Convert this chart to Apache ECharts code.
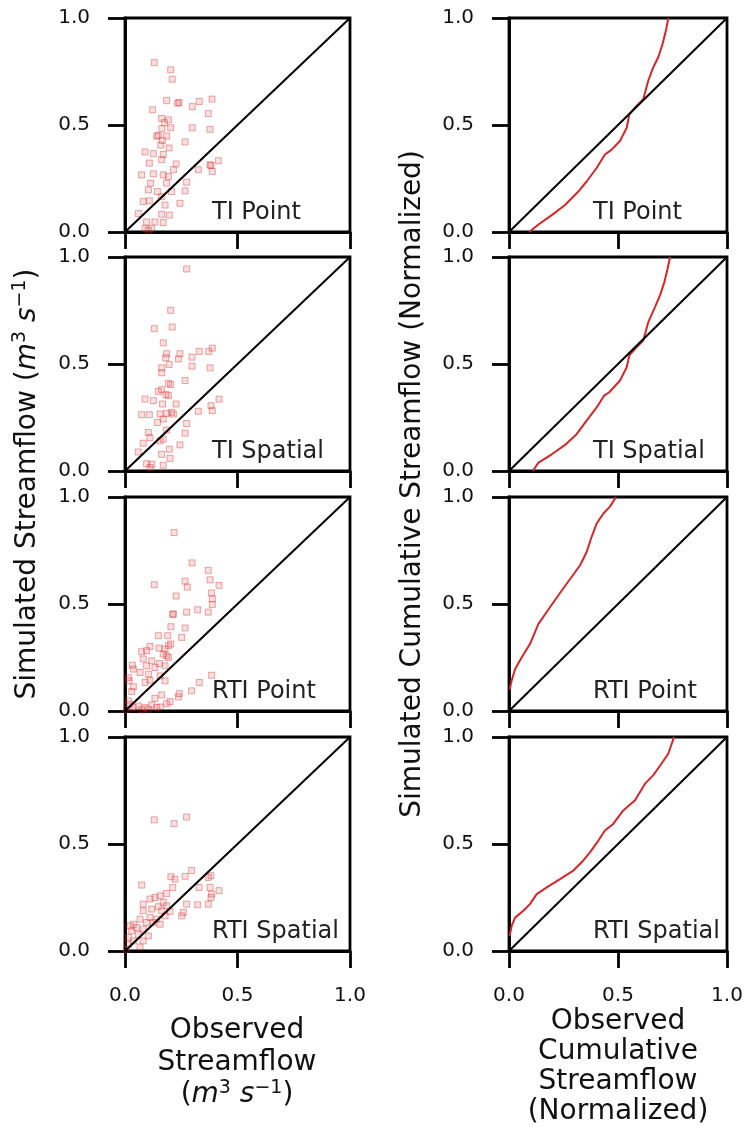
<!DOCTYPE html>
<html><head><meta charset="utf-8">
<script src="https://cdn.jsdelivr.net/npm/echarts@6/dist/echarts.min.js"></script>
<style>html,body{margin:0;padding:0;background:#fff}#c{width:748px;height:1127px}</style>
</head><body><div id="c"></div>
<script>
// ---- data ----
const tickValues = [0, 0.5, 1.0];
const tickLabels = ['0.0', '0.5', '1.0'];
const panelNames = ['TI Point', 'TI Spatial', 'RTI Point', 'RTI Spatial'];
const oneToOne = [[0, 0], [1, 1]];

const tiPointScatter = [[.130,.791],[.203,.758],[.210,.714],[.185,.615],[.240,.605],[.234,.602],[.330,.610],[.299,.586],[.387,.621],[.123,.571],[.370,.553],[.163,.531],[.193,.524],[.175,.511],[.203,.487],[.299,.487],[.378,.480],[.164,.483],[.141,.448],[.148,.451],[.185,.448],[.166,.428],[.267,.421],[.159,.406],[.196,.393],[.089,.374],[.126,.366],[.170,.362],[.163,.338],[.415,.333],[.382,.311],[.388,.283],[.378,.314],[.326,.291],[.227,.318],[.108,.322],[.215,.291],[.074,.267],[.126,.272],[.170,.267],[.193,.259],[.185,.228],[.274,.233],[.114,.228],[.104,.197],[.144,.189],[.207,.189],[.267,.192],[.081,.142],[.108,.146],[.163,.165],[.178,.126],[.244,.134],[.059,.086],[.163,.083],[.197,.079],[.096,.047],[.133,.047],[.170,.044],[.089,.016],[.104,.008],[.119,.016]];

const tiSpatialScatter = [[.274,.944],[.203,.751],[.130,.665],[.210,.673],[.170,.599],[.185,.548],[.244,.548],[.181,.529],[.237,.524],[.330,.559],[.372,.559],[.388,.574],[.298,.532],[.298,.490],[.196,.498],[.163,.482],[.378,.482],[.163,.459],[.193,.410],[.203,.404],[.267,.423],[.163,.380],[.148,.372],[.182,.357],[.193,.352],[.089,.336],[.126,.329],[.167,.313],[.227,.313],[.418,.336],[.382,.305],[.388,.282],[.326,.279],[.074,.263],[.108,.263],[.156,.266],[.185,.269],[.207,.274],[.215,.266],[.170,.243],[.274,.222],[.144,.227],[.104,.180],[.185,.191],[.267,.177],[.111,.156],[.156,.141],[.170,.149],[.081,.130],[.244,.122],[.059,.089],[.163,.078],[.197,.102],[.200,.059],[.096,.034],[.119,.031],[.170,.027],[.111,.016]];

const rtiPointScatter = [[.218,.834],[.298,.692],[.370,.657],[.267,.607],[.378,.613],[.418,.587],[.130,.590],[.277,.579],[.385,.552],[.227,.537],[.388,.524],[.388,.498],[.323,.473],[.274,.462],[.370,.462],[.215,.454],[.212,.451],[.204,.394],[.267,.388],[.148,.352],[.190,.352],[.252,.344],[.193,.305],[.111,.302],[.203,.313],[.151,.294],[.178,.290],[.074,.277],[.096,.282],[.170,.266],[.185,.258],[.193,.250],[.033,.214],[.081,.243],[.119,.235],[.153,.222],[.096,.211],[.037,.196],[.133,.203],[.178,.211],[.015,.156],[.067,.180],[.104,.172],[.156,.164],[.178,.141],[.018,.141],[.089,.133],[.111,.144],[.037,.113],[.385,.167],[.330,.133],[.296,.094],[.241,.081],[.237,.066],[.163,.075],[.200,.044],[.133,.059],[.185,.034],[.119,.028],[.089,.016],[.141,.016],[.030,.091],[.015,.047],[.022,.031],[.037,.016],[.007,.008],[.074,.006],[.104,.009],[.156,.019],[.059,.023]];

const rtiSpatialScatter = [[.130,.613],[.218,.595],[.274,.626],[.296,.376],[.204,.347],[.222,.336],[.267,.349],[.382,.352],[.370,.344],[.074,.308],[.212,.297],[.329,.297],[.378,.297],[.418,.282],[.385,.266],[.185,.269],[.156,.258],[.133,.250],[.111,.243],[.170,.227],[.081,.219],[.274,.219],[.382,.250],[.370,.219],[.323,.216],[.185,.211],[.148,.207],[.119,.196],[.081,.188],[.163,.188],[.200,.185],[.259,.180],[.252,.164],[.111,.156],[.067,.149],[.141,.149],[.178,.164],[.037,.125],[.096,.133],[.126,.133],[.156,.125],[.022,.117],[.052,.110],[.081,.102],[.030,.094],[.059,.078],[.015,.063],[.037,.047],[.015,.031],[.067,.019],[.007,.008],[.081,.047],[.104,.070]];

const tiPointCum = [[.093,0],[.135,.035],[.196,.079],[.257,.126],[.318,.189],[.356,.236],[.402,.299],[.440,.362],[.471,.385],[.509,.425],[.540,.487],[.552,.550],[.586,.590],[.616,.621],[.639,.708],[.662,.770],[.685,.818],[.705,.881],[.720,.943],[.731,1.0]];
const tiSpatialCum = [[.109,0],[.135,.039],[.196,.078],[.257,.122],[.310,.172],[.356,.235],[.402,.297],[.436,.352],[.460,.368],[.509,.423],[.540,.485],[.552,.540],[.586,.579],[.616,.610],[.639,.696],[.670,.767],[.693,.822],[.713,.884],[.726,.939],[.739,1.0]];
const rtiPointCum = [[.003,.100],[.005,.110],[.012,.141],[.028,.196],[.058,.250],[.096,.313],[.135,.407],[.188,.485],[.242,.563],[.287,.626],[.326,.681],[.356,.743],[.379,.814],[.402,.876],[.433,.923],[.463,.955],[.491,1.0]];
const rtiSpatialCum = [[.003,.070],[.005,.078],[.012,.117],[.028,.156],[.066,.188],[.096,.219],[.127,.266],[.173,.297],[.234,.336],[.295,.376],[.341,.423],[.372,.462],[.410,.516],[.440,.563],[.479,.595],[.524,.657],[.578,.704],[.601,.743],[.624,.782],[.662,.822],[.700,.876],[.731,.923],[.757,1.0]];

const scatterSets = [tiPointScatter, tiSpatialScatter, rtiPointScatter, rtiSpatialScatter];
const cumSets = [tiPointCum, tiSpatialCum, rtiPointCum, rtiSpatialCum];

// ---- layout ----
const FONT = 'DejaVu Sans';
const rowTops = [18, 257, 497, 737];
const rowH = 214;
const colLeft = [125, 509];
const colW = [225, 218];

const grids = [], xAxes = [], yAxes = [], series = [], graphics = [];
const fmt = v => tickLabels[tickValues.indexOf(Math.round(v * 10) / 10)] || v.toFixed(1);

for (let r = 0; r < 4; r++) {
  for (let c = 0; c < 2; c++) {
    const gi = r * 2 + c;
    grids.push({left: colLeft[c], top: rowTops[r], width: colW[c], height: rowH,
      show: true, borderColor: '#000', borderWidth: 2.8, backgroundColor: 'transparent'});
    const axisCommon = {
      gridIndex: gi, type: 'value', min: 0, max: 1, interval: 0.5,
      axisLine: {show: true, onZero: false, lineStyle: {color: '#000', width: 2.8}},
      axisTick: {show: true, inside: false, length: 17, lineStyle: {color: '#000', width: 2.8}},
      splitLine: {show: false}
    };
    xAxes.push(Object.assign({}, axisCommon, {
      axisLabel: {show: r === 3, margin: 35, fontSize: 20, color: '#111', fontFamily: FONT, formatter: fmt}
    }));
    yAxes.push(Object.assign({}, axisCommon, {
      axisLabel: {show: true, margin: 35, fontSize: 20, color: '#111', fontFamily: FONT, formatter: fmt}
    }));
    if (c === 0) {
      series.push({type: 'scatter', xAxisIndex: gi, yAxisIndex: gi, data: scatterSets[r],
        symbol: 'rect', symbolSize: 6,
        itemStyle: {color: 'rgba(214,39,40,0.18)', borderColor: 'rgba(214,39,40,0.5)', borderWidth: 1},
        z: 2});
    } else {
      series.push({type: 'line', xAxisIndex: gi, yAxisIndex: gi, data: cumSets[r],
        showSymbol: false, symbol: 'none', lineStyle: {color: '#d62728', width: 2}, z: 2});
    }
    series.push({type: 'line', xAxisIndex: gi, yAxisIndex: gi, data: oneToOne,
      showSymbol: false, symbol: 'none', lineStyle: {color: '#000', width: 2}, z: 3, silent: true});
    graphics.push({type: 'text', x: c === 0 ? 212 : 593, y: rowTops[r] + rowH - 19,
      style: {text: panelNames[r], fontSize: 24, fontFamily: FONT, fill: '#222',
        align: 'left', verticalAlign: 'middle'}});
  }
}

const richSup = {
  i: {fontSize: 28, fontFamily: FONT, fontStyle: 'italic', fill: '#111'},
  sup: {fontSize: 19, fontFamily: FONT, verticalAlign: 'top', lineHeight: 20, fill: '#111'}
};
// left y title
graphics.push({type: 'text', x: 28, y: 484, rotation: Math.PI / 2,
  style: {text: 'Simulated Streamflow ({i|m}{sup|3} {i|s}{sup|−1})', fontSize: 28, fontFamily: FONT, fill: '#111',
    align: 'center', verticalAlign: 'middle', lineHeight: 34, rich: richSup}});
// right y title
graphics.push({type: 'text', x: 413, y: 484, rotation: Math.PI / 2,
  style: {text: 'Simulated Cumulative Streamflow (Normalized)', fontSize: 28, fontFamily: FONT, fill: '#111',
    align: 'center', verticalAlign: 'middle'}});
// left x title
graphics.push({type: 'text', x: 237, y: 1015,
  style: {text: 'Observed\nStreamflow\n({i|m}{sup|3} {i|s}{sup|−1})', fontSize: 28, fontFamily: FONT, fill: '#111',
    align: 'center', verticalAlign: 'top', lineHeight: 32, rich: richSup}});
// right x title
graphics.push({type: 'text', x: 618, y: 1007,
  style: {text: 'Observed\nCumulative\nStreamflow\n(Normalized)', fontSize: 28, fontFamily: FONT, fill: '#111',
    align: 'center', verticalAlign: 'top', lineHeight: 30}});

const chart = echarts.init(document.getElementById('c'), null, {renderer: 'canvas'});
chart.setOption({
  animation: false,
  backgroundColor: '#fff',
  grid: grids, xAxis: xAxes, yAxis: yAxes, series: series, graphic: graphics
});
</script></body></html>
